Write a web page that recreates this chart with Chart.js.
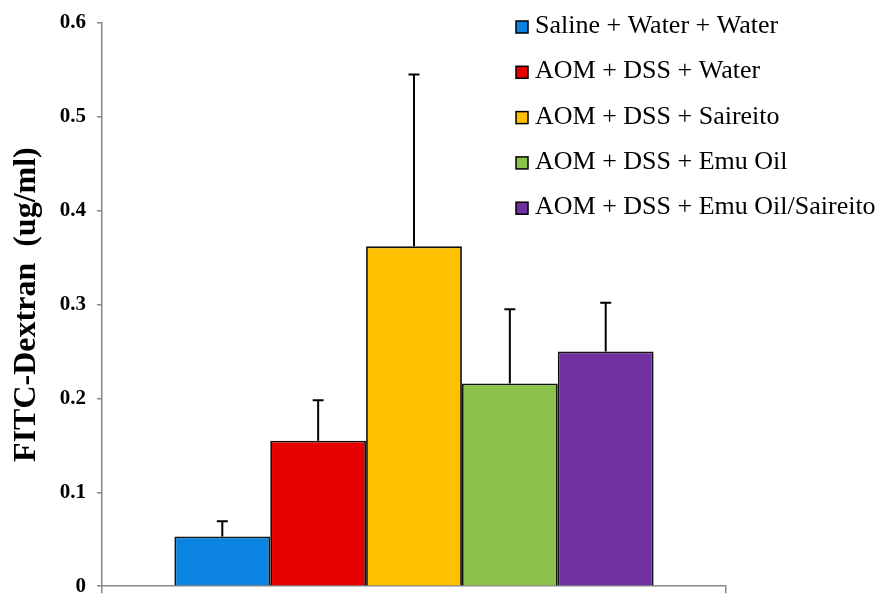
<!DOCTYPE html>
<html>
<head>
<meta charset="utf-8">
<script src="https://cdn.jsdelivr.net/npm/chart.js@4/dist/chart.umd.min.js"></script>
<style>
html,body{margin:0;padding:0;background:#fff;overflow:hidden;}
#wrap{width:878px;height:594px;position:relative;overflow:hidden;}
#c{position:absolute;left:0;top:4px;}
</style>
</head>
<body>
<div id="wrap"><canvas id="c" width="878" height="601"></canvas></div>
<script>
const groups = ['Saline + Water + Water', 'AOM + DSS + Water', 'AOM + DSS + Saireito', 'AOM + DSS + Emu Oil', 'AOM + DSS + Emu Oil/Saireito'];
const means = [0.053, 0.155, 0.362, 0.216, 0.250];
const errors = [0.016, 0.043, 0.183, 0.079, 0.052];
const colors = ['#0A84E0', '#E80000', '#FFC000', '#8BC24A', '#7030A0'];
const yTicks = [0, 0.1, 0.2, 0.3, 0.4, 0.5, 0.6];
const yTitle = 'FITC-Dextran  (ug/ml)';

const SERIF = '"Liberation Serif", "Times New Roman", serif';

const errorBars = {
  id: 'errorBars',
  afterDatasetsDraw(chart) {
    const ctx = chart.ctx;
    const y = chart.scales.y;
    ctx.save();
    ctx.strokeStyle = '#000';
    ctx.lineWidth = 2;
    chart.data.datasets.forEach((ds, i) => {
      const meta = chart.getDatasetMeta(i);
      const bar = meta.data[0];
      const yTop = y.getPixelForValue(means[i] + errors[i]);
      const yBase = y.getPixelForValue(means[i]);
      ctx.beginPath();
      ctx.moveTo(bar.x, yBase);
      ctx.lineTo(bar.x, yTop);
      ctx.moveTo(bar.x - 5.5, yTop);
      ctx.lineTo(bar.x + 5.5, yTop);
      ctx.stroke();
    });
    ctx.restore();
  }
};

const customLegend = {
  id: 'customLegend',
  afterDraw(chart) {
    const ctx = chart.ctx;
    ctx.save();
    ctx.font = '26px ' + SERIF;
    ctx.textBaseline = 'alphabetic';
    ctx.textAlign = 'left';
    chart.data.datasets.forEach((ds, i) => {
      const cy = 23 + i * 45.3;
      ctx.fillStyle = ds.backgroundColor;
      ctx.fillRect(516, cy - 6, 12, 12);
      ctx.strokeStyle = '#000';
      ctx.lineWidth = 1.5;
      ctx.strokeRect(516, cy - 6, 12, 12);
      ctx.fillStyle = '#000';
      ctx.fillText(ds.label, 535, cy + 6);
    });
    ctx.restore();
  }
};

const datasets = groups.map((g, i) => ({
  label: g,
  data: [means[i]],
  backgroundColor: colors[i],
  borderColor: '#111',
  borderWidth: 1.8,
  borderSkipped: 'bottom',
  categoryPercentage: 0.768,
  barPercentage: 1.0
}));

new Chart(document.getElementById('c'), {
  type: 'bar',
  data: { labels: [''], datasets },
  options: {
    responsive: false,
    animation: false,
    devicePixelRatio: 1,
    layout: { padding: { left: 0, right: 152, top: 19, bottom: 0 } },
    plugins: { legend: { display: false }, tooltip: { enabled: false } },
    scales: {
      x: {
        type: 'category',
        offset: true,
        afterFit(scale) { scale.height = 8; },
        grid: { display: true, drawOnChartArea: false, drawTicks: true, tickLength: 7, color: '#878787', lineWidth: 1.5, offset: true },
        border: { display: true, color: '#878787', width: 1.5 },
        ticks: { display: false }
      },
      y: {
        min: 0, max: 0.6,
        afterBuildTicks(scale) { scale.ticks = yTicks.map(v => ({ value: v })); },
        afterFit(scale) { scale.width = 102; },
        grid: { display: true, drawOnChartArea: false, drawTicks: true, tickLength: 5, color: '#878787', lineWidth: 1.5 },
        border: { display: true, color: '#878787', width: 1.5 },
        ticks: {
          padding: 11,
          color: '#000',
          font: { family: SERIF, size: 21, weight: 'bold', lineHeight: 0.75 },
          callback: (v) => (v === 0 ? '0' : v.toFixed(1))
        },
        title: {
          display: true,
          text: yTitle,
          color: '#000',
          font: { family: SERIF, size: 32, weight: 'bold' },
          padding: { top: 8, bottom: 0 }
        }
      }
    }
  },
  plugins: [errorBars, customLegend]
});
</script>
</body>
</html>
